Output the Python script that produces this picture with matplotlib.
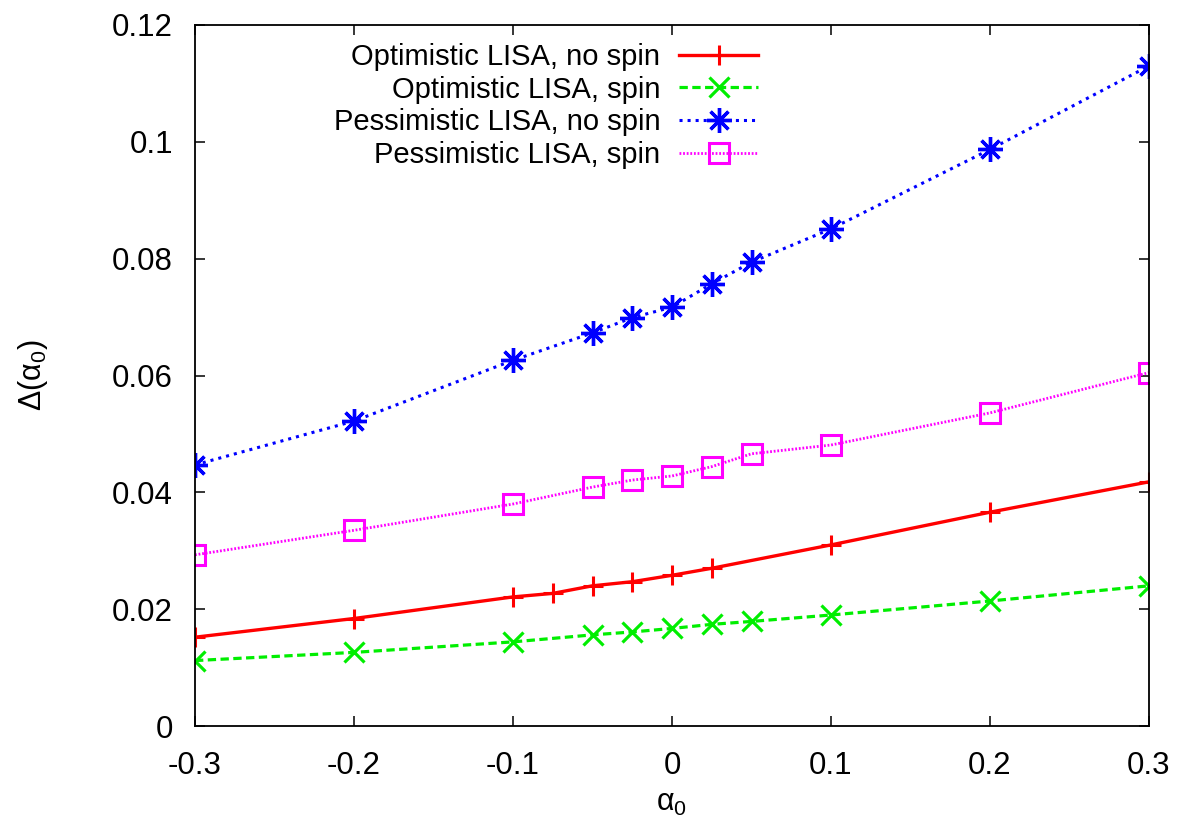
import numpy as np
import matplotlib
matplotlib.use('Agg')
import matplotlib.pyplot as plt

plt.rcParams['font.family'] = ['Liberation Sans', 'DejaVu Sans']
plt.rcParams['mathtext.default'] = 'regular'
plt.rcParams['axes.unicode_minus'] = False
plt.rcParams['lines.scale_dashes'] = False

# values
x_opt_nospin = [-0.3, -0.2, -0.1, -0.075, -0.05, -0.025, 0.0, 0.025, 0.1, 0.2, 0.3]
y_opt_nospin = [0.0152, 0.0184, 0.0221, 0.0227, 0.0240, 0.0247, 0.0258, 0.0270, 0.0310, 0.0366, 0.0418]

x_other = [-0.3, -0.2, -0.1, -0.05, -0.025, 0.0, 0.025, 0.05, 0.1, 0.2, 0.3]
y_opt_spin = [0.0112, 0.0126, 0.0144, 0.0156, 0.0161, 0.0167, 0.0174, 0.0179, 0.0190, 0.0214, 0.0240]
y_pes_nospin = [0.0447, 0.0522, 0.0626, 0.0673, 0.0699, 0.0717, 0.0757, 0.0794, 0.0851, 0.0987, 0.1130]
y_pes_spin = [0.0293, 0.0335, 0.0380, 0.0409, 0.0421, 0.0428, 0.0444, 0.0466, 0.0481, 0.0536, 0.0605]

labels = ['Optimistic LISA, no spin', 'Optimistic LISA, spin',
          'Pessimistic LISA, no spin', 'Pessimistic LISA, spin']

xticks = [-0.3, -0.2, -0.1, 0.0, 0.1, 0.2, 0.3]
xtick_labels = ['-0.3', '-0.2', '-0.1', '0', '0.1', '0.2', '0.3']
yticks = [0, 0.02, 0.04, 0.06, 0.08, 0.1, 0.12]
ytick_labels = ['0', '0.02', '0.04', '0.06', '0.08', '0.1', '0.12']

fig = plt.figure(figsize=(12.01, 8.26), dpi=100)
ax = fig.add_axes([195/1201, 1-726/826, (1149-195)/1201, (726-25)/826])

ax.plot(x_opt_nospin, y_opt_nospin, color='#ff0000', lw=2.4, marker='+',
        ms=15, mew=2.2, label=labels[0])
ax.plot(x_other, y_opt_spin, color='#00ee00', lw=2.3, dashes=(6, 3.2), marker='x',
        ms=15, mew=2.3, label=labels[1])
ax.plot(x_other, y_pes_nospin, color='#0000ff', lw=2.2, dashes=(2.2, 3.6), marker=(8, 2, 0),
        ms=18, mew=2.4, label=labels[2])
ax.plot(x_other, y_pes_spin, color='#ff00ff', lw=2.0, dashes=(1.3, 1.3), marker='s',
        ms=14, mew=2.2, mfc='none', label=labels[3])

ax.set_xlim(-0.3, 0.3)
ax.set_ylim(0, 0.12)
ax.set_xticks(xticks)
ax.set_xticklabels(xtick_labels)
ax.set_yticks(yticks)
ax.set_yticklabels(ytick_labels)
ax.tick_params(direction='in', length=7, width=1.1, top=True, right=True, labelsize=22.5)
ax.tick_params(axis='x', pad=18)
ax.tick_params(axis='y', pad=16)
for s in ax.spines.values():
    s.set_linewidth(1.3)

ax.set_xlabel(r'α$_0$', fontsize=22)
ax.set_ylabel(r'Δ(α$_0$)', fontsize=22)
ax.xaxis.set_label_coords(0.5, -0.088)
ax.yaxis.set_label_coords(-0.152, 0.5)

leg = ax.legend(loc='upper right', bbox_to_anchor=(758/1201, 1-43/826),
                bbox_transform=fig.transFigure, frameon=False, markerfirst=False,
                fontsize=21, handlelength=2.7, handletextpad=0.65, labelspacing=0.16,
                borderpad=0, borderaxespad=0, numpoints=1)

fig.savefig('out.png', dpi=100)
